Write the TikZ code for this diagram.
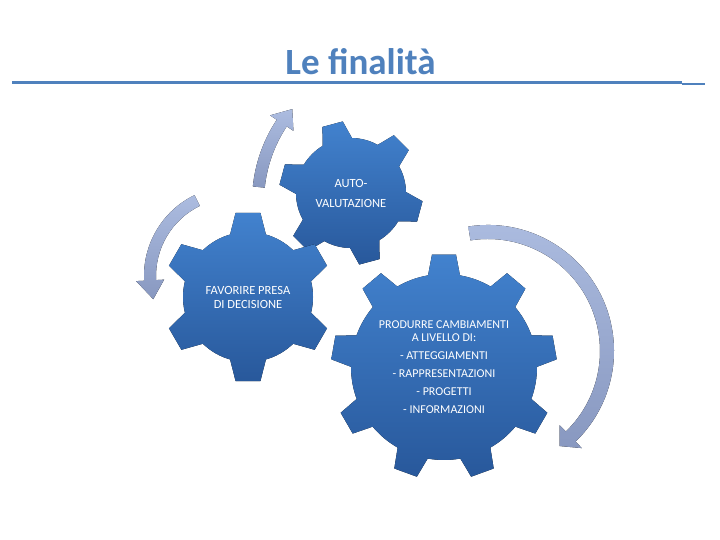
\documentclass[tikz,border=0pt]{standalone}
\usepackage{fontspec}
\setmainfont{Carlito}
\definecolor{titleblue}{RGB}{79,129,189}
\definecolor{gearlight}{RGB}{66,130,206}
\definecolor{geardark}{RGB}{40,88,155}
\definecolor{arrowlight}{RGB}{172,188,224}
\definecolor{arrowdark}{RGB}{136,152,192}
\tikzset{
  gear/.style={top color=gearlight, bottom color=geardark},
  ring arrow/.style={top color=arrowlight, bottom color=arrowdark},
  gear label/.style={text=white, align=center, inner sep=0pt},
}
% center, teeth, first tooth angle, inner r, outer r, base half angle, tip half angle
\newcommand{\drawgear}[7]{%
  \begin{scope}[shift={(#1)}]
    \fill[gear] ({#3-#6}:#4)
      \foreach \k [evaluate=\k as \a using {#3+(\k-1)*360/#2}] in {1,...,#2}{
        -- ({\a-#7}:#5) -- ({\a+#7}:#5) -- ({\a+#6}:#4)
        arc[start angle={\a+#6}, end angle={\a+360/#2-#6}, radius=#4]
      } -- cycle;
  \end{scope}}
% center, radius, tail angle, head angle, tip angle, half width, half head width
\newcommand{\ringarrow}[7]{%
  \begin{scope}[shift={(#1)}]
    \fill[ring arrow] ({#3}:{#2+#6}) arc[start angle=#3, end angle=#4, radius={#2+#6}]
      -- ({#4}:{#2+#7}) -- ({#5}:#2) -- ({#4}:{#2-#7}) -- ({#4}:{#2-#6})
      arc[start angle=#4, end angle=#3, radius={#2-#6}] -- cycle;
  \end{scope}}
\begin{document}
\begin{tikzpicture}[x=1pt,y=1pt]
  \useasboundingbox[fill=white] (0,0) rectangle (720,540);
  % title
  \node[anchor=base, text=titleblue, font=\fontsize{37}{40}\selectfont\bfseries, inner sep=0pt] (title) at (360.5,465) {Le finalità};
  \draw[titleblue, line width=3pt] (12,457) -- (682,457);
  \draw[titleblue, line width=2pt] (682,456) -- (705,456);
  % gear centres
  \coordinate (auto) at (351,347);
  \coordinate (presa) at (248,243);
  \coordinate (cambi) at (444,173);
  % arrows
  \ringarrow{401,338}{143}{174}{146.5}{139.5}{6}{14}
  \ringarrow{234,264}{84}{116}{183}{196}{6}{14}
  \ringarrow{488,189}{119}{99}{-46}{-53}{7}{16}
  % gears
  \drawgear{auto}{6}{105}{55}{72}{16}{8.4}
  \drawgear{presa}{6}{90}{65}{85}{16}{8.4}
  \drawgear{cambi}{9}{90}{93}{113}{9.9}{6.1}
  % labels
  \node[gear label, font=\fontsize{12.5}{20}\selectfont] (autotext) at (auto) {AUTO-\\VALUTAZIONE};
  \node[gear label, font=\fontsize{12.5}{14}\selectfont] (presatext) at (presa) {FAVORIRE PRESA\\DI DECISIONE};
  \node[gear label, font=\fontsize{12}{13}\selectfont] (cambitext) at (cambi) {PRODURRE CAMBIAMENTI\\A LIVELLO DI:\\[5pt]- ATTEGGIAMENTI\\[4.5pt]- RAPPRESENTAZIONI\\[5pt]- PROGETTI\\[5pt]- INFORMAZIONI};
\end{tikzpicture}
\end{document}
